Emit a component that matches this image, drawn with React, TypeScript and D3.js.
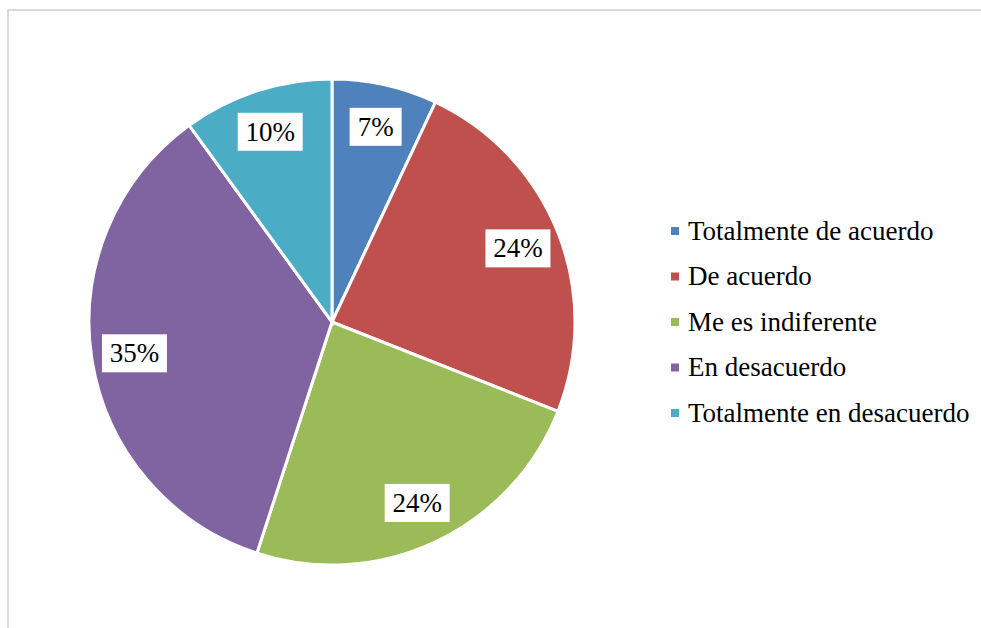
import React from "react";
import { pie, arc } from "d3";

const categories = [
  "Totalmente de acuerdo",
  "De acuerdo",
  "Me es indiferente",
  "En desacuerdo",
  "Totalmente en desacuerdo",
];
const values = [7, 24, 24, 35, 10];
const colors = ["#4F81BD", "#C0504D", "#9BBB59", "#8064A2", "#4BACC6"];

const width = 981;
const height = 628;
const cx = 332;
const cy = 322;
const radius = 243;
const labelRadius = 200;
const textStyle = {
  fontFamily: '"Liberation Serif"',
  fontSize: "27px",
  fill: "#000",
};

const App = () => {
  const slices = pie<number>().sort(null).value((d) => d)(values);
  const arcGen = arc<any>().innerRadius(0).outerRadius(radius);
  const labelArc = arc<any>().innerRadius(labelRadius).outerRadius(labelRadius);

  const legendX = 671;
  const legendY = 231;
  const legendStep = 45.5;

  return (
    <svg
      width={width}
      height={height}
      style={{ position: "absolute", left: 0, top: 0, display: "block", background: "#fff" }}
    >
      <rect x={8} y={10} width={width + 20} height={height + 20} fill="#fff" stroke="#d9d9d9" strokeWidth={2} />

      <g transform={`translate(${cx}, ${cy})`}>
        {slices.map((s, i) => (
          <path key={i} d={arcGen(s) as string} fill={colors[i]} stroke="#fff" strokeWidth={3} />
        ))}
        {slices.map((s, i) => {
          const [lx, ly] = labelArc.centroid(s);
          const txt = `${values[i]}%`;
          const w = txt.length === 2 ? 52 : 65;
          return (
            <g key={i} transform={`translate(${lx}, ${ly})`}>
              <rect x={-w / 2} y={-19} width={w} height={38} fill="#fff" />
              <text textAnchor="middle" dy="0.33em" style={textStyle}>
                {txt}
              </text>
            </g>
          );
        })}
      </g>

      {categories.map((c, i) => (
        <g key={i} transform={`translate(${legendX}, ${legendY + i * legendStep})`}>
          <rect x={0} y={-4} width={8} height={8} fill={colors[i]} />
          <text x={17} dy="0.33em" style={textStyle}>
            {c}
          </text>
        </g>
      ))}
    </svg>
  );
};

export default App;
